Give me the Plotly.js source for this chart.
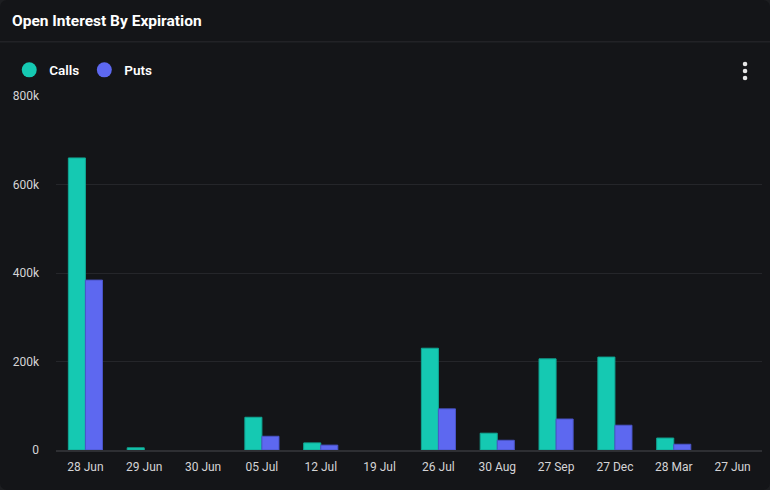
<!DOCTYPE html>
<html>
<head>
<meta charset="utf-8">
<script src="https://cdn.plot.ly/plotly-3.0.1.min.js"></script>
<style>
html,body{margin:0;padding:0;background:#1d1e21;}
#chart{width:770px;height:490px;border-radius:7px;overflow:hidden;}
</style>
</head>
<body>
<div id="chart"></div>
<script>
const categories = ["28 Jun","29 Jun","30 Jun","05 Jul","12 Jul","19 Jul","26 Jul","30 Aug","27 Sep","27 Dec","28 Mar","27 Jun"];
const calls = [660000, 5000, 0, 74000, 16000, 0, 230000, 38000, 206000, 210000, 27000, 0];
const puts  = [384000, 0, 0, 31000, 11000, 0, 93000, 22000, 70000, 56000, 13000, 0];
const yTickVals = [0, 200000, 400000, 600000, 800000];
const yTickText = ["0", "200k", "400k", "600k", "800k"];

const callColor = "#15c9b2", putColor = "#5d68f0";

const traces = [
  {type:"bar", name:"Calls", x:categories, y:calls, showlegend:false,
   marker:{color:callColor, line:{color:"#10a693", width:calls.map(v => v > 0 ? 1 : 0)}}, hoverinfo:"x+y"},
  {type:"bar", name:"Puts", x:categories, y:puts, showlegend:false,
   marker:{color:putColor, line:{color:"#4a54c8", width:puts.map(v => v > 0 ? 1 : 0)}}, hoverinfo:"x+y"},
  {type:"scatter", mode:"markers", name:"Calls", x:[null], y:[null],
   marker:{color:callColor, size:15, symbol:"circle"}},
  {type:"scatter", mode:"markers", name:"Puts", x:[null], y:[null],
   marker:{color:putColor, size:15, symbol:"circle"}}
];

const dot = (yv) => ({type:"circle", xref:"paper", yref:"paper", xsizemode:"pixel", ysizemode:"pixel",
  xanchor:0.976, yanchor:yv, x0:-2.3, x1:2.3, y0:-2.3, y1:2.3, fillcolor:"#e6e6e6", line:{width:0}});

const layout = {
  width:770, height:490,
  paper_bgcolor:"#141518", plot_bgcolor:"#141518",
  margin:{l:56, r:8, t:96, b:40},
  font:{family:"Roboto, Arial, sans-serif", color:"#d4d4d6", size:12},
  title:{text:"<b>Open Interest By Expiration</b>", x:0, xref:"container", xanchor:"left",
         y:1, yref:"container", yanchor:"top", pad:{l:12, t:15},
         font:{family:"Roboto, Arial, sans-serif", size:15.5, color:"#ffffff"}},
  barmode:"group", bargap:0.42, bargroupgap:0,
  showlegend:true,
  legend:{orientation:"h", x:0.012, xref:"container", xanchor:"left", y:0.857, yref:"container", yanchor:"middle",
          font:{family:"Roboto, Arial, sans-serif", size:13.5, color:"#ffffff", weight:600},
          itemwidth:30, itemclick:false, bgcolor:"rgba(0,0,0,0)"},
  xaxis:{type:"category", showgrid:false, zeroline:false, showline:true, linecolor:"#2e2f33", linewidth:2,
         tickfont:{size:12, color:"#d4d4d6"}, ticks:"", ticklabelstandoff:5, fixedrange:true},
  yaxis:{range:[0,800000], tickvals:yTickVals, ticktext:yTickText, showgrid:true, gridcolor:"#25262a", gridwidth:1,
         zeroline:false, showline:false, ticks:"", ticklabelstandoff:16,
         tickfont:{size:12, color:"#d4d4d6"}, fixedrange:true},
  shapes:[
    {type:"line", xref:"paper", yref:"paper", x0:-0.08, x1:1.02, y0:1.153, y1:1.153, line:{color:"#2a2b2f", width:1}},
    dot(1.0904), dot(1.0706), dot(1.0508)
  ]
};

Plotly.newPlot("chart", traces, layout, {displayModeBar:false});
</script>
</body>
</html>
